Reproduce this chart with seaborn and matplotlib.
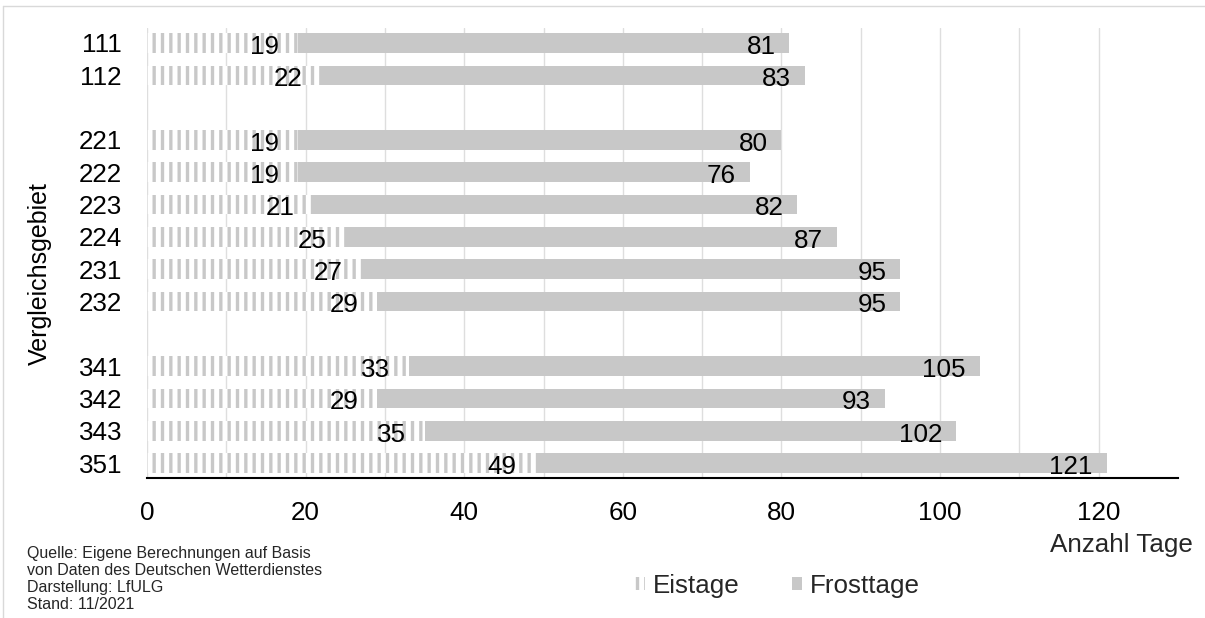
import numpy as np
import pandas as pd
import matplotlib
matplotlib.use("Agg")
import matplotlib.pyplot as plt
from matplotlib.patches import Patch
from matplotlib.lines import Line2D
import seaborn as sns

# Vergleichsgebiete (blank entries separate the groups)
gebiete = ["111", "112", "", "221", "222", "223", "224", "231", "232", " ",
           "341", "342", "343", "351"]
eistage = [19, 22, np.nan, 19, 19, 21, 25, 27, 29, np.nan, 33, 29, 35, 49]
frosttage = [81, 83, np.nan, 80, 76, 82, 87, 95, 95, np.nan, 105, 93, 102, 121]
x_ticks = [0, 20, 40, 60, 80, 100, 120]

W, H = 1205, 618
GREY = "#c8c8c8"
GRID = "#dedede"
FONT = "Liberation Sans"
FS = 18.7

sns.set_theme(style="white")
plt.rcParams["font.family"] = [FONT, "DejaVu Sans"]
plt.rcParams["hatch.linewidth"] = 2.4

df = pd.DataFrame({"Gebiet": gebiete, "Eistage": eistage, "Frosttage": frosttage})

fig = plt.figure(figsize=(W / 100, H / 100), dpi=100)
ax = fig.add_axes([147 / W, 1 - 478 / H, 1031 / W, 450 / H])

sns.barplot(data=df, y="Gebiet", x="Frosttage", order=gebiete, orient="h",
            color=GREY, saturation=1, width=0.6, linewidth=0, ax=ax, zorder=2)
sns.barplot(data=df, y="Gebiet", x="Eistage", order=gebiete, orient="h",
            color="white", saturation=1, width=0.6, linewidth=0,
            edgecolor=GREY, hatch="||", ax=ax, zorder=3)

# value labels at the inner end of each bar
for i, (e, f) in enumerate(zip(eistage, frosttage)):
    if np.isnan(e):
        continue
    for v, dx in ((e, -13.5), (f, -10)):
        ax.annotate(f"{v:.0f}", xy=(v, i), xytext=(dx, -7.8),
                    textcoords="offset points", ha="right", va="baseline",
                    fontsize=FS, color="black", zorder=5)

ax.set_xlim(0, 130)
ax.set_ylim(len(gebiete) - 0.54, -0.46)
ax.set_xticks(x_ticks)
ax.set_xticks(np.arange(10, 130, 20), minor=True)
ax.grid(axis="x", which="both", color=GRID, linewidth=1, zorder=0)
ax.set_axisbelow(True)
ax.tick_params(axis="both", which="both", length=0, labelsize=FS, colors="black")
ax.tick_params(axis="x", pad=16.5)
ax.tick_params(axis="y", pad=18)
for s in ("top", "right", "left"):
    ax.spines[s].set_visible(False)
ax.spines["bottom"].set_color("black")
ax.spines["bottom"].set_linewidth(1.5)

ax.set_xlabel("")
ax.set_ylabel("Vergleichsgebiet", fontsize=18, color="black")
ax.yaxis.set_label_coords(-95 / 1031, (478 - 274) / 450)

fig.text(1193 / W, 1 - 552 / H, "Anzahl Tage", ha="right", va="baseline",
         fontsize=FS)

fig.text(27 / W, 1 - 546 / H,
         "Quelle: Eigene Berechnungen auf Basis\n"
         "von Daten des Deutschen Wetterdienstes\n"
         "Darstellung: LfULG\n"
         "Stand: 11/2021",
         ha="left", va="top", fontsize=11.5, linespacing=1.17)

handles = [Patch(facecolor="white", edgecolor=GREY, hatch="||", linewidth=0),
           Patch(facecolor=GREY, edgecolor="none")]
fig.legend(handles, ["Eistage", "Frosttage"], loc="center",
           bbox_to_anchor=(777.5 / W, 1 - 585.5 / H), ncol=2, frameon=False,
           fontsize=FS, handlelength=0.385, handleheight=0.385,
           handletextpad=0.3, columnspacing=2.0)

# thin frame along the top and left edge of the figure
fig.add_artist(Line2D([3 / W, 1], [1 - 6 / H, 1 - 6 / H],
                      transform=fig.transFigure, color="#d9d9d9", lw=1))
fig.add_artist(Line2D([3 / W, 3 / W], [0, 1 - 6 / H],
                      transform=fig.transFigure, color="#d9d9d9", lw=1))

fig.savefig("out.png", dpi=100, facecolor="white")
